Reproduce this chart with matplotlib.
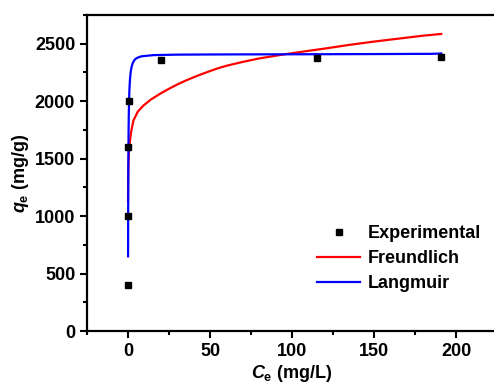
import matplotlib
matplotlib.use("Agg")
import matplotlib.pyplot as plt
from matplotlib.ticker import MultipleLocator

plt.rcParams['font.family'] = ['Liberation Sans', 'DejaVu Sans']
plt.rcParams['font.weight'] = 'bold'
plt.rcParams['mathtext.fontset'] = 'custom'
plt.rcParams['mathtext.it'] = 'Liberation Sans:italic:bold'
plt.rcParams['mathtext.rm'] = 'Liberation Sans:bold'
plt.rcParams['mathtext.bf'] = 'Liberation Sans:bold'

# Experimental data
exp_ce = [0.1, 0.2, 0.3, 0.4, 20, 115, 191]
exp_qe = [400, 1000, 1600, 2000, 2362, 2372, 2384]

# Freundlich fit curve
fr_ce = [0.02, 0.08, 0.2, 0.5, 1.2, 2, 3.3, 6, 9.4, 14, 19.6, 25, 30, 35, 40, 45, 50, 55, 60, 70, 80, 95, 110, 120, 135, 148, 160, 170, 180, 191]
fr_qe = [1130, 1300, 1420, 1540, 1655, 1740, 1831, 1910, 1962, 2015, 2065, 2108, 2145, 2178, 2208, 2236, 2262, 2287, 2308, 2342, 2372, 2407, 2438, 2458, 2490, 2515, 2536, 2553, 2570, 2585]

# Langmuir fit curve
la_ce = [0.05, 0.1, 0.2, 0.35, 0.5, 0.8, 1.2, 1.7, 2.2, 3, 4, 5.3, 8, 15.5, 30, 60, 100, 150, 185, 191]
la_qe = [650, 1025, 1440, 1740, 1900, 2080, 2190, 2260, 2300, 2335, 2360, 2375, 2390, 2401, 2405, 2407, 2408, 2410, 2412, 2415]

fig = plt.figure(figsize=(4.94, 3.88), dpi=100)
W, H = 494, 388
ax = fig.add_axes([87 / W, (H - 331) / H, (497 - 87) / W, (331 - 15) / H])

ax.plot(fr_ce, fr_qe, color='#ff0000', lw=1.6, label='Freundlich', zorder=2)
ax.plot(la_ce, la_qe, color='#0000ff', lw=1.6, label='Langmuir', zorder=3)
ax.plot(exp_ce, exp_qe, 's', color='black', ms=5, ls='none', label='Experimental', zorder=4)

ax.set_xlim(-25, 225)
ax.set_ylim(0, 2750)
ax.xaxis.set_major_locator(MultipleLocator(50))
ax.xaxis.set_minor_locator(MultipleLocator(25))
ax.yaxis.set_major_locator(MultipleLocator(500))
ax.yaxis.set_minor_locator(MultipleLocator(250))
ax.tick_params(which='both', direction='out', width=1.5, labelsize=13, top=False, right=False)
ax.tick_params(which='major', length=5)
ax.tick_params(which='minor', length=3)
for lbl in ax.get_xticklabels() + ax.get_yticklabels():
    lbl.set_fontweight('bold')
for s in ax.spines.values():
    s.set_linewidth(1.6)

ax.set_xlabel(r'$C_{\rm e}$ (mg/L)', fontsize=13, fontweight='bold', labelpad=2)
ax.set_ylabel(r'$q_{\rm e}$ (mg/g)', fontsize=13, fontweight='bold', labelpad=3)

handles, labels = ax.get_legend_handles_labels()
order = [2, 0, 1]
leg = ax.legend([handles[i] for i in order], [labels[i] for i in order],
                loc='upper left', bbox_to_anchor=(0.53, 0.376), frameon=False,
                handlelength=2.4, handletextpad=0.4, labelspacing=0.45,
                borderpad=0.2, prop={'weight': 'bold', 'size': 13})

fig.savefig('out.png', dpi=100)
